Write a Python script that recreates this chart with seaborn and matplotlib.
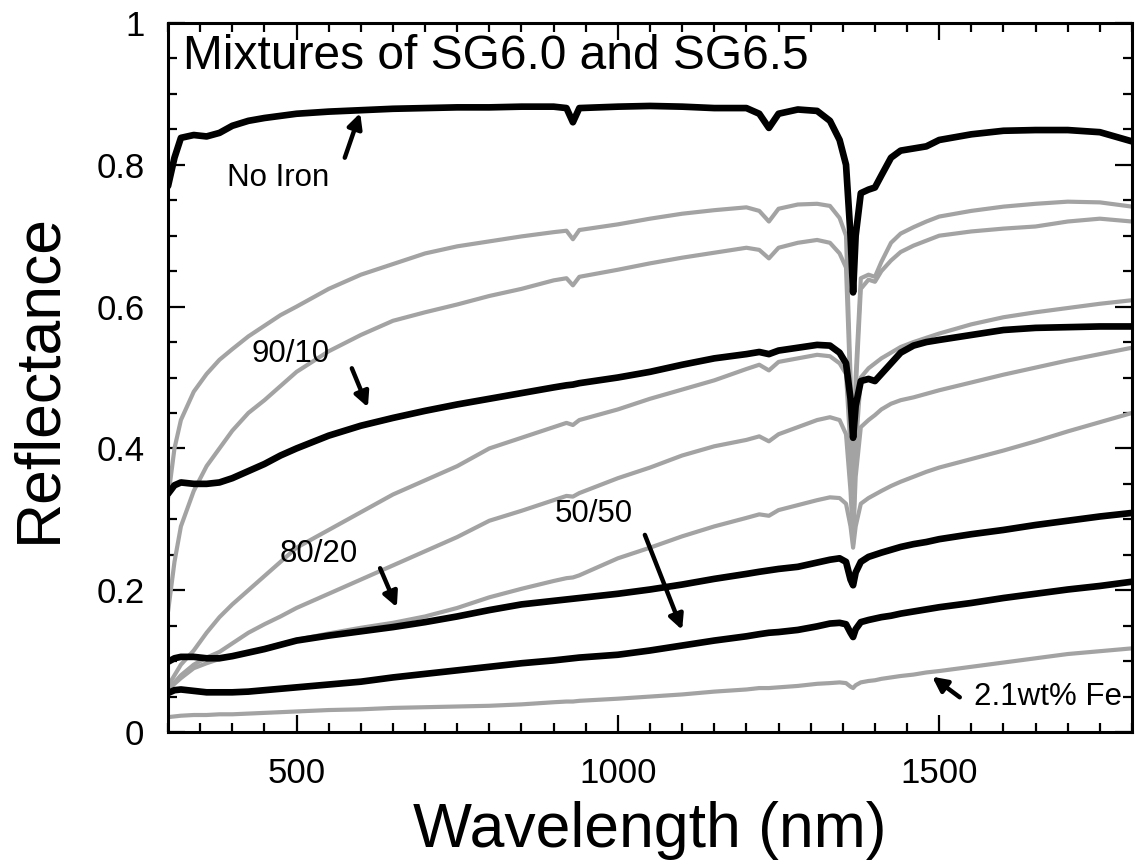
import numpy as np
import pandas as pd
import matplotlib
matplotlib.use("Agg")
import matplotlib.pyplot as plt
from matplotlib.ticker import MultipleLocator, FixedLocator, FuncFormatter
import seaborn as sns

# ---------------- data ----------------
wavelength = [300, 310, 320, 340, 360, 380, 400, 425, 450, 475,
              500, 550, 600, 650, 700, 750, 800, 850, 900, 920,
              930, 940, 1000, 1050, 1100, 1150, 1200, 1220, 1235, 1250,
              1280, 1310, 1330, 1345, 1355, 1362, 1366, 1370, 1378, 1390,
              1400, 1410, 1425, 1440, 1460, 1480, 1500, 1550, 1600, 1650,
              1700, 1750, 1800]

no_iron = [0.770, 0.810, 0.838, 0.842, 0.840, 0.845, 0.855, 0.862, 0.866, 0.869,
           0.872, 0.875, 0.877, 0.879, 0.880, 0.881, 0.881, 0.882, 0.882, 0.880,
           0.860, 0.880, 0.882, 0.883, 0.882, 0.880, 0.880, 0.872, 0.852, 0.872,
           0.878, 0.876, 0.862, 0.835, 0.800, 0.700, 0.620, 0.700, 0.760, 0.765,
           0.768, 0.785, 0.810, 0.820, 0.823, 0.826, 0.835, 0.843, 0.848, 0.849,
           0.849, 0.846, 0.833]

mix_90_10 = [0.336, 0.348, 0.352, 0.350, 0.350, 0.352, 0.358, 0.368, 0.378, 0.390,
             0.400, 0.418, 0.432, 0.443, 0.453, 0.462, 0.470, 0.478, 0.486, 0.489,
             0.490, 0.492, 0.500, 0.508, 0.518, 0.527, 0.533, 0.536, 0.533, 0.538,
             0.542, 0.546, 0.545, 0.535, 0.520, 0.470, 0.415, 0.460, 0.495, 0.498,
             0.495, 0.505, 0.520, 0.535, 0.545, 0.550, 0.553, 0.560, 0.567, 0.570,
             0.571, 0.572, 0.572]

mix_80_20 = [0.099, 0.104, 0.106, 0.106, 0.104, 0.104, 0.107, 0.112, 0.117, 0.123,
             0.129, 0.136, 0.142, 0.148, 0.155, 0.163, 0.172, 0.180, 0.185, 0.187,
             0.188, 0.189, 0.195, 0.201, 0.208, 0.216, 0.223, 0.226, 0.228, 0.230,
             0.233, 0.239, 0.243, 0.245, 0.240, 0.215, 0.207, 0.225, 0.240, 0.247,
             0.250, 0.253, 0.257, 0.261, 0.265, 0.268, 0.272, 0.279, 0.285, 0.292,
             0.298, 0.304, 0.309]

mix_50_50 = [0.055, 0.059, 0.060, 0.058, 0.056, 0.056, 0.056, 0.057, 0.059, 0.061,
             0.063, 0.067, 0.071, 0.077, 0.082, 0.087, 0.092, 0.097, 0.101, 0.103,
             0.104, 0.105, 0.109, 0.115, 0.122, 0.129, 0.135, 0.138, 0.140, 0.141,
             0.144, 0.149, 0.153, 0.154, 0.152, 0.140, 0.134, 0.145, 0.155, 0.158,
             0.160, 0.162, 0.164, 0.167, 0.170, 0.173, 0.176, 0.182, 0.189, 0.195,
             0.201, 0.206, 0.212]

gray_a = [0.330, 0.400, 0.440, 0.480, 0.505, 0.525, 0.540, 0.558, 0.573, 0.588,
          0.600, 0.625, 0.645, 0.660, 0.675, 0.685, 0.692, 0.699, 0.705, 0.707,
          0.695, 0.708, 0.716, 0.724, 0.731, 0.736, 0.740, 0.735, 0.720, 0.738,
          0.744, 0.745, 0.742, 0.725, 0.700, 0.500, 0.300, 0.500, 0.640, 0.645,
          0.642, 0.663, 0.690, 0.703, 0.712, 0.720, 0.727, 0.735, 0.741, 0.745,
          0.748, 0.747, 0.741]

gray_b = [0.170, 0.240, 0.290, 0.340, 0.375, 0.400, 0.425, 0.450, 0.468, 0.488,
          0.508, 0.537, 0.560, 0.580, 0.592, 0.603, 0.615, 0.625, 0.637, 0.640,
          0.630, 0.642, 0.652, 0.661, 0.669, 0.676, 0.683, 0.680, 0.668, 0.683,
          0.690, 0.694, 0.690, 0.675, 0.655, 0.480, 0.280, 0.480, 0.625, 0.638,
          0.635, 0.650, 0.665, 0.677, 0.686, 0.693, 0.700, 0.706, 0.710, 0.713,
          0.720, 0.724, 0.720]

gray_c = [0.065, 0.080, 0.095, 0.115, 0.140, 0.162, 0.180, 0.200, 0.220, 0.240,
          0.260, 0.285, 0.310, 0.335, 0.355, 0.375, 0.400, 0.415, 0.430, 0.436,
          0.433, 0.440, 0.455, 0.470, 0.483, 0.496, 0.512, 0.518, 0.510, 0.522,
          0.527, 0.532, 0.530, 0.520, 0.505, 0.400, 0.265, 0.400, 0.500, 0.513,
          0.520, 0.527, 0.535, 0.543, 0.550, 0.556, 0.562, 0.575, 0.585, 0.592,
          0.598, 0.604, 0.609]

gray_d = [0.060, 0.070, 0.080, 0.095, 0.105, 0.113, 0.125, 0.140, 0.152, 0.163,
          0.175, 0.195, 0.215, 0.235, 0.255, 0.275, 0.298, 0.312, 0.327, 0.333,
          0.332, 0.337, 0.358, 0.373, 0.390, 0.403, 0.412, 0.417, 0.410, 0.420,
          0.430, 0.440, 0.444, 0.440, 0.420, 0.340, 0.270, 0.360, 0.430, 0.440,
          0.447, 0.455, 0.463, 0.468, 0.472, 0.477, 0.482, 0.493, 0.504, 0.514,
          0.524, 0.533, 0.542]

gray_e = [0.060, 0.068, 0.076, 0.090, 0.097, 0.103, 0.107, 0.112, 0.118, 0.124,
          0.130, 0.139, 0.147, 0.154, 0.163, 0.175, 0.190, 0.202, 0.213, 0.217,
          0.218, 0.221, 0.245, 0.260, 0.276, 0.290, 0.302, 0.307, 0.305, 0.313,
          0.320, 0.327, 0.331, 0.330, 0.322, 0.290, 0.260, 0.290, 0.322, 0.330,
          0.335, 0.340, 0.347, 0.353, 0.360, 0.367, 0.373, 0.385, 0.397, 0.410,
          0.424, 0.437, 0.450]

iron_21 = [0.021, 0.022, 0.023, 0.024, 0.024, 0.025, 0.025, 0.026, 0.027, 0.028,
           0.029, 0.031, 0.032, 0.034, 0.035, 0.036, 0.037, 0.039, 0.042, 0.043,
           0.043, 0.044, 0.047, 0.050, 0.053, 0.057, 0.060, 0.062, 0.062, 0.063,
           0.065, 0.068, 0.069, 0.070, 0.069, 0.064, 0.062, 0.066, 0.070, 0.072,
           0.073, 0.075, 0.077, 0.079, 0.081, 0.084, 0.086, 0.092, 0.098, 0.104,
           0.110, 0.114, 0.118]

gray_names = ["gray_a", "gray_b", "gray_c", "gray_d", "gray_e", "2.1wt% Fe"]
gray_series = [gray_a, gray_b, gray_c, gray_d, gray_e, iron_21]
black_names = ["No Iron", "90/10", "80/20", "50/50"]
black_series = [no_iron, mix_90_10, mix_80_20, mix_50_50]

x_ticks = [500, 1000, 1500]
y_ticks = [0, 0.2, 0.4, 0.6, 0.8, 1.0]
y_tick_labels = ["0", "0.2", "0.4", "0.6", "0.8", "1"]

def to_long(names, series):
    frames = []
    for n, s in zip(names, series):
        frames.append(pd.DataFrame({"wavelength": wavelength, "reflectance": s, "sample": n}))
    return pd.concat(frames, ignore_index=True)

gray_df = to_long(gray_names, gray_series)
black_df = to_long(black_names, black_series)

# ---------------- style ----------------
sns.set_style("ticks")
plt.rcParams["font.family"] = ["Liberation Sans", "DejaVu Sans"]
plt.rcParams["text.color"] = "black"
plt.rcParams["axes.labelcolor"] = "black"
plt.rcParams["xtick.color"] = "black"
plt.rcParams["ytick.color"] = "black"

fig = plt.figure(figsize=(11.37, 8.61), dpi=100)
ax = fig.add_axes([0.1478, 0.1498, 0.8478, 0.8235])

GRAY = "#a3a3a3"
sns.lineplot(data=gray_df, x="wavelength", y="reflectance", hue="sample",
             palette={n: GRAY for n in gray_names}, linewidth=3.0,
             estimator=None, legend=False, ax=ax)
sns.lineplot(data=black_df, x="wavelength", y="reflectance", hue="sample",
             palette={n: "black" for n in black_names}, linewidth=4.8,
             estimator=None, legend=False, ax=ax)

ax.set_xlim(300, 1800)
ax.set_ylim(0, 1)

ax.xaxis.set_major_locator(FixedLocator(x_ticks))
ax.xaxis.set_minor_locator(MultipleLocator(50))
ax.yaxis.set_major_locator(FixedLocator(y_ticks))
ax.yaxis.set_minor_locator(MultipleLocator(0.05))
ax.yaxis.set_major_formatter(FuncFormatter(lambda v, p: y_tick_labels[y_ticks.index(round(v, 1))] if round(v, 1) in y_ticks else ""))

ax.tick_params(which="both", direction="in", top=True, right=True,
               color="black", labelcolor="black")
ax.tick_params(which="major", length=12, width=1.6, labelsize=25)
ax.tick_params(axis="x", which="major", pad=18)
ax.tick_params(axis="y", which="major", pad=17)
ax.tick_params(which="minor", length=6.5, width=1.6)
for sp in ax.spines.values():
    sp.set_linewidth(2.2)
    sp.set_color("black")

ax.set_xlabel("Wavelength (nm)", fontsize=45, labelpad=8, color="black")
ax.set_ylabel("Reflectance", fontsize=45, labelpad=20, color="black")

ax.text(0.015, 0.985, "Mixtures of SG6.0 and SG6.5", transform=ax.transAxes,
        fontsize=34.5, ha="left", va="top", color="black")

arrow = dict(arrowstyle="-|>", color="black", lw=3.2, mutation_scale=22,
             shrinkA=0, shrinkB=0)
ann_fs = 22.5
ax.text(471, 0.781, "No Iron", fontsize=ann_fs, ha="center", va="center")
ax.annotate("", xy=(599, 0.873), xytext=(575, 0.81), arrowprops=arrow)
ax.text(491, 0.533, "90/10", fontsize=ann_fs, ha="center", va="center")
ax.annotate("", xy=(611, 0.458), xytext=(586, 0.513), arrowprops=arrow)
ax.text(535, 0.251, "80/20", fontsize=ann_fs, ha="center", va="center")
ax.annotate("", xy=(656, 0.176), xytext=(630, 0.231), arrowprops=arrow)
ax.text(963, 0.307, "50/50", fontsize=ann_fs, ha="center", va="center")
ax.annotate("", xy=(1100, 0.144), xytext=(1042, 0.278), arrowprops=arrow)
ax.text(1669, 0.049, "2.1wt% Fe", fontsize=ann_fs, ha="center", va="center")
ax.annotate("", xy=(1489, 0.078), xytext=(1532, 0.049), arrowprops=arrow)

fig.savefig("out.png", dpi=100, facecolor="white")
